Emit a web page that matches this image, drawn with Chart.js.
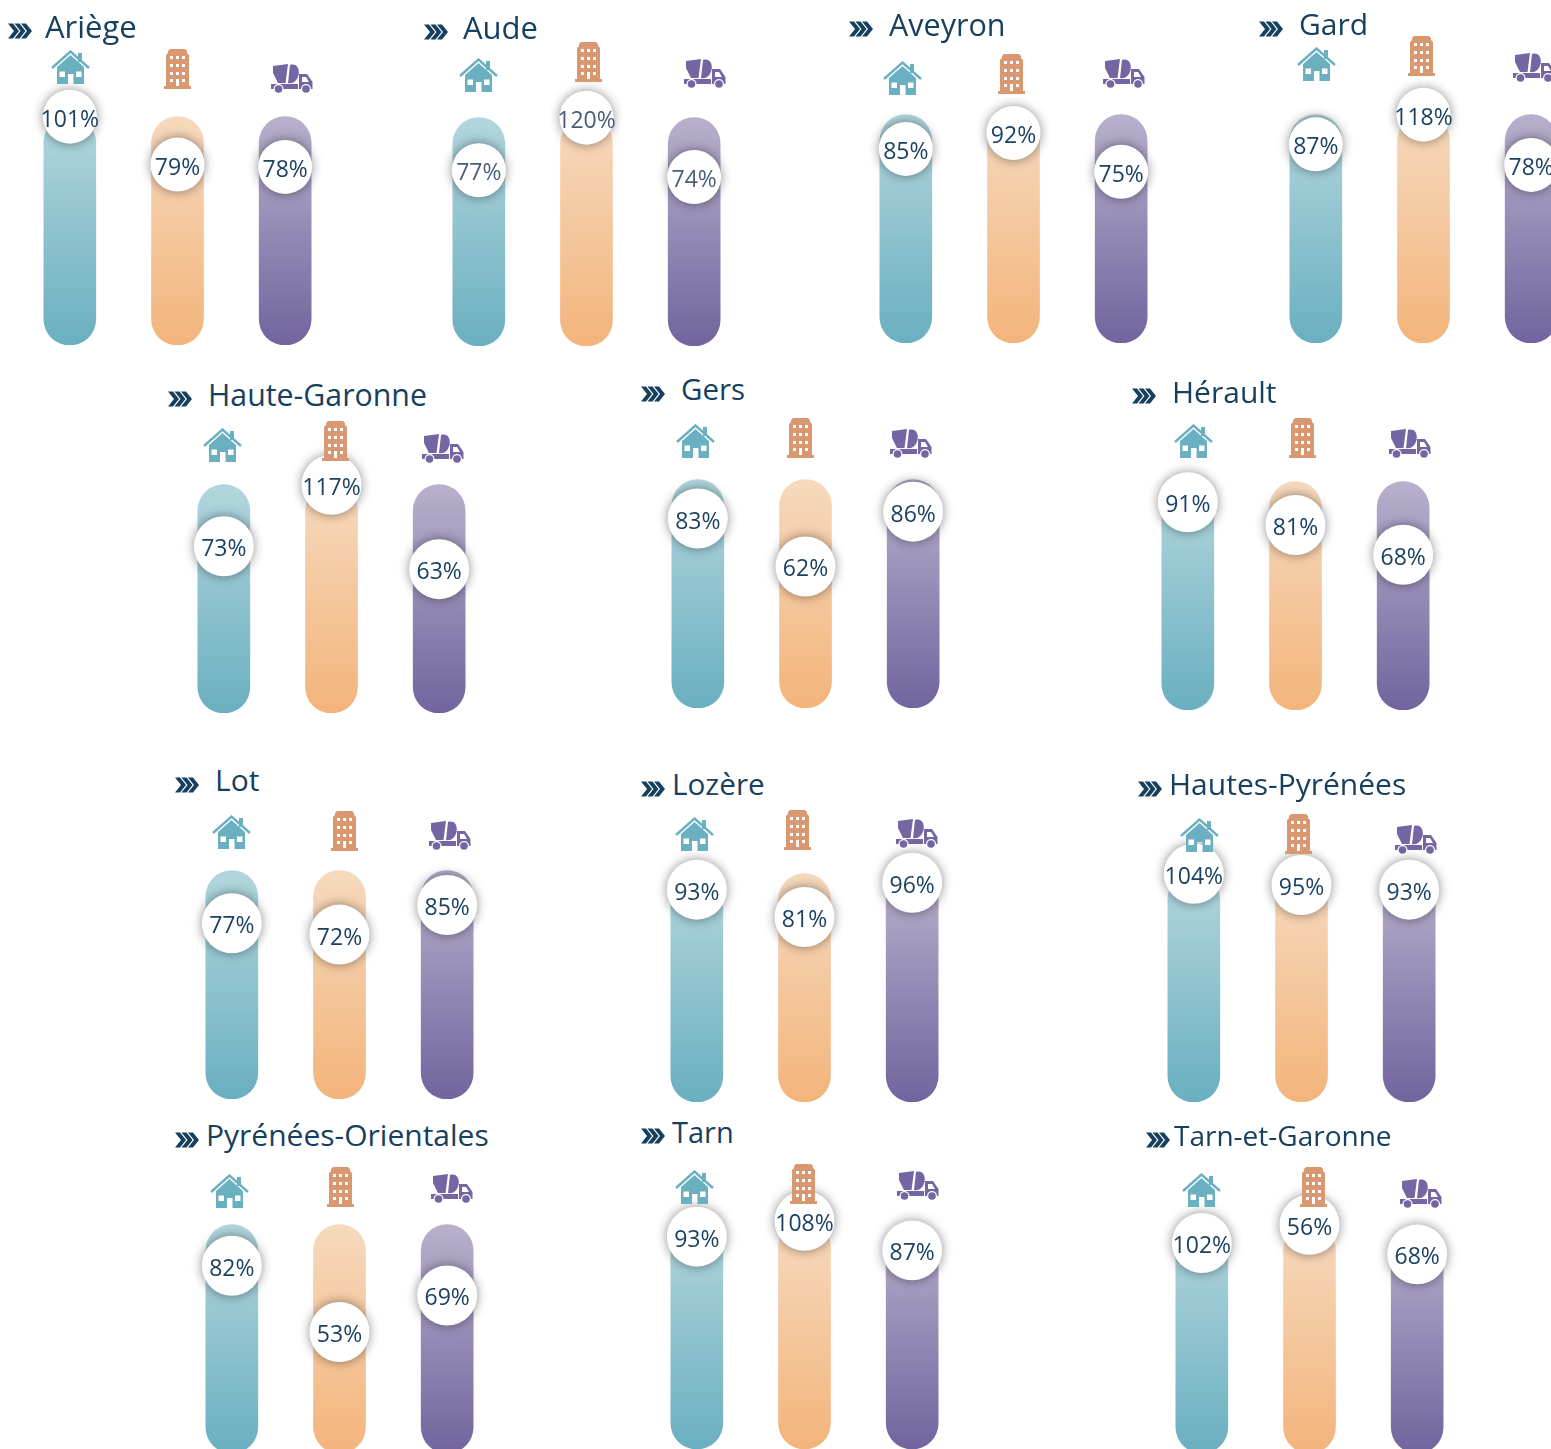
<!DOCTYPE html>
<html lang="fr">
<head>
<meta charset="utf-8">
<title>Départements</title>
<script src="https://cdn.jsdelivr.net/npm/chart.js@4"></script>
<style>
html, body { margin: 0; padding: 0; background: #fff; }
#page { position: relative; width: 1551px; height: 1449px; overflow: hidden; background: #fff; }
#page canvas { position: absolute; z-index: 1; }
#page svg.icone { position: absolute; z-index: 2; overflow: visible; }
.titre { position: absolute; z-index: 3; white-space: nowrap; font-family: "Open Sans", sans-serif; line-height: 40px; color: #17405f; }
</style>
</head>
<body>
<svg width="0" height="0" style="position:absolute">
	<symbol id="chevrons" viewBox="0 0 24 16">
		<path d="M0 0.5 L5 0.5 L11 8 L5 15.5 L0 15.5 L6 8 Z M6.5 0.5 L11.5 0.5 L17.5 8 L11.5 15.5 L6.5 15.5 L12.5 8 Z M13 0.5 L18 0.5 L24 8 L18 15.5 L13 15.5 L19 8 Z" fill="#17405f"/>
	</symbol>
	<symbol id="maison" viewBox="0 0 39 34">
		<path d="M1 18 L19.5 1.5 L38 18" fill="none" stroke="#6bb0c1" stroke-width="2.4"/>
		<rect x="27" y="3" width="4" height="9" fill="#6bb0c1"/>
		<path d="M6 17 L19.5 5 L33 17 V34 H22.5 V24 H17 V34 H6 Z" fill="#6bb0c1"/>
		<rect x="8.5" y="21.5" width="5.5" height="5.5" fill="#fff"/>
		<rect x="25" y="21.5" width="5.5" height="5.5" fill="#fff"/>
	</symbol>
	<symbol id="immeuble" viewBox="0 0 27 40">
		<path d="M2 38 V6 L4 4 V2 L6 0 H21 L23 2 V4 L25 6 V38 Z" fill="#d99871"/>
		<rect x="0" y="37" width="27" height="3" fill="#d99871"/>
		<path d="M6 7 h3 v3 h-3 z M12 7 h3 v3 h-3 z M18 7 h3 v3 h-3 z M6 15 h3 v3 h-3 z M12 15 h3 v3 h-3 z M18 15 h3 v3 h-3 z M6 23 h3 v3 h-3 z M12 23 h3 v3 h-3 z M18 23 h3 v3 h-3 z M6 30 h3 v3 h-3 z M12 30 h3 v7 h-3 z M18 30 h3 v3 h-3 z" fill="#fff"/>
	</symbol>
	<symbol id="camion" viewBox="0 0 42 30">
		<path d="M2 2 L17 0 L14.5 19 L7 19 L2 9 Z M19 1 C25 -1 29 4 27.5 11 C26 17 22 20 17 19 Z" fill="#7466a2"/>
		<path d="M0 20 H27 V25 H0 Z" fill="#7466a2"/>
		<path d="M28 10 H36 L41.5 18 V25 H28 Z" fill="#7466a2"/>
		<path d="M31 13 H35 L38 18 H31 Z" fill="#fff"/>
		<circle cx="7.5" cy="25" r="5" fill="#fff"/>
		<circle cx="7.5" cy="25" r="3.8" fill="#7466a2"/>
		<circle cx="35" cy="25" r="5" fill="#fff"/>
		<circle cx="35" cy="25" r="3.8" fill="#7466a2"/>
	</symbol>
</svg>
<div id="page"></div>

<script>
var departements = ["Ariège", "Aude", "Aveyron", "Gard", "Haute-Garonne", "Gers", "Hérault", "Lot", "Lozère", "Hautes-Pyrénées", "Pyrénées-Orientales", "Tarn", "Tarn-et-Garonne"];
var categories = ["Maison", "Immeuble", "Travaux"];

// pourcentages affiches
var valeursMaison = [101, 77, 85, 87, 73, 83, 91, 77, 93, 104, 82, 93, 102];
var valeursImmeuble = [79, 120, 92, 118, 117, 62, 81, 72, 81, 95, 53, 108, 56];
var valeursTravaux = [78, 74, 75, 78, 63, 86, 68, 85, 96, 93, 69, 87, 68];

// niveau ou le rond est pose sur la colonne (differe du libelle au dela de 100)
var niveauxMaison = [100, 77, 85, 87, 73, 83, 91, 77, 93, 100, 82, 93, 92];
var niveauxImmeuble = [79, 100, 92, 100, 100, 62, 81, 72, 81, 95, 53, 100, 100];
var niveauxTravaux = [78, 74, 75, 78, 63, 86, 68, 85, 96, 93, 69, 87, 87];

var hauteurColonne = [100, 100, 100];
var maxEchelle = 120;

// mise en page : x du premier centre, y du bas, rayon du rond
var cadres = [
	[70, 345, 27], [479, 346, 27], [905.5, 343, 27], [1315.5, 343, 27],
	[224, 713, 30], [697.5, 708, 30], [1188, 710, 30],
	[232, 1099, 30], [697, 1102, 30], [1194, 1102, 30],
	[232, 1453, 30], [697, 1449, 30], [1202, 1453, 30]
];
// chevrons x,y puis titre x,y et taille
var entetes = [
	[8, 31, 45, 26, 31], [424, 32, 463, 27, 31], [849, 29, 889, 24, 30.5], [1259, 29, 1299, 24, 30],
	[168, 399, 208, 395, 30.3], [641, 394, 681, 389, 29.5], [1132, 396, 1172, 392, 30],
	[175, 785, 215, 780, 30], [641, 789, 672, 784, 29.7], [1138, 789, 1169, 784, 30],
	[175, 1140, 206, 1135, 30], [641, 1136, 672, 1132, 29], [1146, 1140, 1174, 1135, 28]
];
// centres des icones maison, immeuble, camion
var icones = [
	[70, 67, 177, 69, 292, 79], [478, 75, 588, 62, 705, 74], [902, 78, 1011, 74, 1124, 74], [1316, 64, 1421, 56, 1534, 68],
	[222, 445, 335, 441, 443, 449], [695, 441, 800, 438, 911, 444], [1193, 441, 1302, 438, 1410, 444],
	[231, 832, 344, 831, 450, 836], [694, 834, 797, 830, 917, 834], [1199, 835, 1298, 834, 1416, 840],
	[229, 1191, 340, 1187, 452, 1189], [694, 1187, 803, 1184, 918, 1186], [1201, 1190, 1313, 1187, 1421, 1194]
];

var degradesHaut = ["#b2d6dd", "#f6d9bd", "#b8b0cc"];
var degradesBas = ["#6aafc0", "#f3b47b", "#72649e"];
var tailleIcones = { maison: [39, 34], immeuble: [27, 40], camion: [42, 30] };
var page = document.getElementById("page");

function ajouteIcone(nom, cx, cy) {
	var t = tailleIcones[nom];
	var svg = document.createElementNS("http://www.w3.org/2000/svg", "svg");
	svg.setAttribute("class", "icone");
	svg.setAttribute("width", t[0]);
	svg.setAttribute("height", t[1]);
	svg.style.left = (cx - t[0] / 2) + "px";
	svg.style.top = (cy - t[1] / 2) + "px";
	var use = document.createElementNS("http://www.w3.org/2000/svg", "use");
	use.setAttribute("href", "#" + nom);
	svg.appendChild(use);
	page.appendChild(svg);
}

function ajouteEntete(i) {
	var e = entetes[i];
	var svg = document.createElementNS("http://www.w3.org/2000/svg", "svg");
	svg.setAttribute("class", "icone");
	svg.setAttribute("width", 24);
	svg.setAttribute("height", 16);
	svg.style.left = e[0] + "px";
	svg.style.top = (e[1] - 8) + "px";
	var use = document.createElementNS("http://www.w3.org/2000/svg", "use");
	use.setAttribute("href", "#chevrons");
	svg.appendChild(use);
	page.appendChild(svg);

	var titre = document.createElement("div");
	titre.className = "titre";
	titre.textContent = departements[i];
	titre.style.left = e[2] + "px";
	titre.style.top = (e[3] - 20) + "px";
	titre.style.fontSize = e[4] + "px";
	page.appendChild(titre);
}

// ombre sous les ronds
var ombreRonds = {
	id: "ombreRonds",
	beforeDatasetDraw: function (chart, args) {
		if (args.index !== 1) return;
		chart.ctx.save();
		chart.ctx.shadowColor = "rgba(0, 0, 0, 0.45)";
		chart.ctx.shadowBlur = 11;
	},
	afterDatasetDraw: function (chart, args) {
		if (args.index !== 1) return;
		chart.ctx.restore();
	}
};

// libelles dans les ronds
var libelles = {
	id: "libelles",
	afterDatasetsDraw: function (chart) {
		var ctx = chart.ctx;
		var points = chart.getDatasetMeta(1).data;
		var textes = chart.config.options.libellesRonds;
		ctx.save();
		ctx.font = "23px 'Open Sans', sans-serif";
		ctx.fillStyle = chart.config.options.couleurLibelles;
		ctx.textAlign = "center";
		ctx.textBaseline = "middle";
		for (var i = 0; i < points.length; i++) {
			ctx.fillText(textes[i] + "%", points[i].x, points[i].y + 3.5);
		}
		ctx.restore();
	}
};

function degrade(context) {
	var chart = context.chart;
	var j = context.dataIndex;
	if (!chart.chartArea) return degradesBas[j];
	var y = chart.scales.y;
	var g = chart.ctx.createLinearGradient(0, y.getPixelForValue(hauteurColonne[j]), 0, y.getPixelForValue(0));
	g.addColorStop(0, degradesHaut[j]);
	g.addColorStop(1, degradesBas[j]);
	return g;
}

function dessineDepartement(i) {
	var c = cadres[i];
	var largeur = 323;
	var hauteur = 274;
	var canvas = document.createElement("canvas");
	canvas.width = largeur;
	canvas.height = hauteur;
	canvas.style.left = (c[0] - largeur / 6) + "px";
	canvas.style.top = (c[1] - hauteur) + "px";
	page.appendChild(canvas);

	new Chart(canvas.getContext("2d"), {
		type: "bar",
		data: {
			labels: categories,
			datasets: [{
				type: "bar",
				data: hauteurColonne,
				order: 2,
				barThickness: 52,
				borderRadius: 26,
				borderSkipped: false,
				backgroundColor: degrade
			}, {
				type: "line",
				data: [niveauxMaison[i], niveauxImmeuble[i], niveauxTravaux[i]],
				order: 1,
				showLine: false,
				clip: false,
				pointRadius: c[2],
				pointBorderWidth: 0,
				pointBackgroundColor: "#ffffff"
			}]
		},
		options: {
			libellesRonds: [valeursMaison[i], valeursImmeuble[i], valeursTravaux[i]],
			// Aude est plus grise que les autres
			couleurLibelles: departements[i] === "Aude" ? "#4a5d78" : "#1b4262",
			responsive: false,
			animation: false,
			layout: { padding: 0, autoPadding: false },
			plugins: { legend: { display: false }, tooltip: { enabled: false } },
			scales: {
				x: { display: false },
				y: { display: false, min: 0, max: maxEchelle }
			}
		},
		plugins: [ombreRonds, libelles]
	});
}

for (var i = 0; i < departements.length; i++) {
	ajouteEntete(i);
	ajouteIcone("maison", icones[i][0], icones[i][1]);
	ajouteIcone("immeuble", icones[i][2], icones[i][3]);
	ajouteIcone("camion", icones[i][4], icones[i][5]);
	dessineDepartement(i);
}
</script>
</body>
</html>
